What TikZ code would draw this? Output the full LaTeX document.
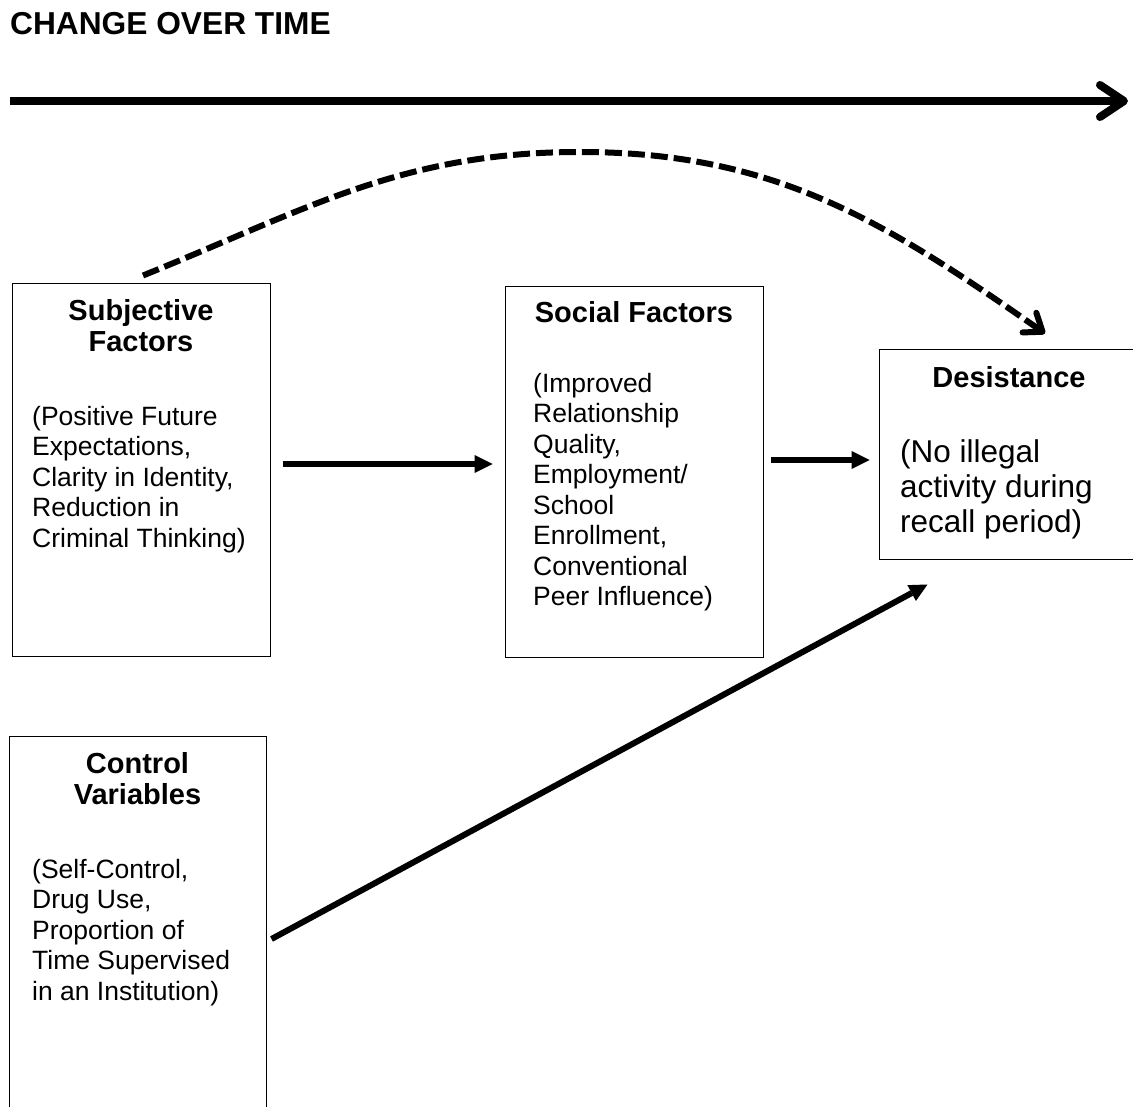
\documentclass[tikz,border=0pt]{standalone}
\usepackage{fontspec}
\setmainfont{Liberation Sans}
\usetikzlibrary{arrows.meta,calc}
\tikzset{
  box/.style={draw=black, line width=1pt, rectangle, inner sep=0pt},
  headtxt/.style={font=\bfseries\fontsize{29}{31}\selectfont, align=center, anchor=base, inner sep=0pt},
  bodytxt/.style={font=\fontsize{26.5}{30.5}\selectfont, align=left, anchor=base west, inner sep=0pt},
  bigbody/.style={font=\fontsize{31.5}{35}\selectfont, align=left, anchor=base west, inner sep=0pt},
  flow/.style={line width=6pt, -{Triangle[length=18pt,width=18pt,line width=0pt]}},
  timeline/.style={line width=8pt, -{Straight Barb[length=24pt,width=32pt,line width=8pt,round]}},
  dashflow/.style={line width=6pt, dash pattern=on 17pt off 6pt, -{Straight Barb[length=16pt,width=24pt,line width=6pt,round]}}
}
\begin{document}
\begin{tikzpicture}[x=1pt,y=1pt]
\useasboundingbox (0,0) rectangle (1133,-1107);
\clip (0,0) rectangle (1133,-1107);

% title
\node[font=\bfseries\fontsize{31.7}{34}\selectfont, anchor=base west, inner sep=0pt] (title) at (10,-35) {CHANGE OVER TIME};

% timeline arrow
\coordinate (tstart) at (10,-101);
\coordinate (tend) at (1128,-101);
\draw[timeline] (tstart) -- (tend);

% boxes
\node[box, minimum width=258pt, minimum height=372pt] (subj) at (141,-470) {};
\node[box, minimum width=258pt, minimum height=370pt] (soc) at (634,-472) {};
\node[box, minimum width=266pt, minimum height=209pt] (des) at (1012,-454.5) {};
\node[box, minimum width=257pt, minimum height=384pt] (ctrl) at (137.5,-928) {};

% texts (anchor = baseline of the last line)
\node[headtxt] (subjh) at (141,-352) {Subjective\\Factors};
\node[bodytxt] (subjb) at (32,-547) {(Positive Future\\Expectations,\\Clarity in Identity,\\Reduction in\\Criminal Thinking)};

\node[headtxt] (soch) at (634,-323) {Social Factors};
\node[bodytxt] (socb) at (533,-605.5) {(Improved\\Relationship\\Quality,\\Employment/\\School\\Enrollment,\\Conventional\\Peer Influence)};

\node[headtxt] (desh) at (1009,-388) {Desistance};
\node[bigbody] (desb) at (900,-532) {(No illegal\\activity during\\recall period)};

\node[headtxt] (ctrlh) at (137.5,-804) {Control\\Variables};
\node[bodytxt] (ctrlb) at (32,-1000) {(Self-Control,\\Drug Use,\\Proportion of\\Time Supervised\\in an Institution)};

% connectors
\draw[flow] ($(subj.east)+(12,6)$) -- ($(soc.west)+(-12,8)$);
\draw[flow] ($(soc.east)+(7,12)$) -- ($(des.west)+(-9,-5.5)$);
\draw[flow] ($(ctrl.east)+(5,-11)$) -- ($(des.south west)+(49,-25)$);

\coordinate (dstart) at ($(subj.north)+(2,8)$);
\coordinate (dpeak) at (580,-152);
\coordinate (dend) at ($(des.north)+(33,16)$);
\draw[dashflow] (dstart) to[out=22,in=180] (dpeak) to[out=0,in=145] (dend);
\end{tikzpicture}
\end{document}
